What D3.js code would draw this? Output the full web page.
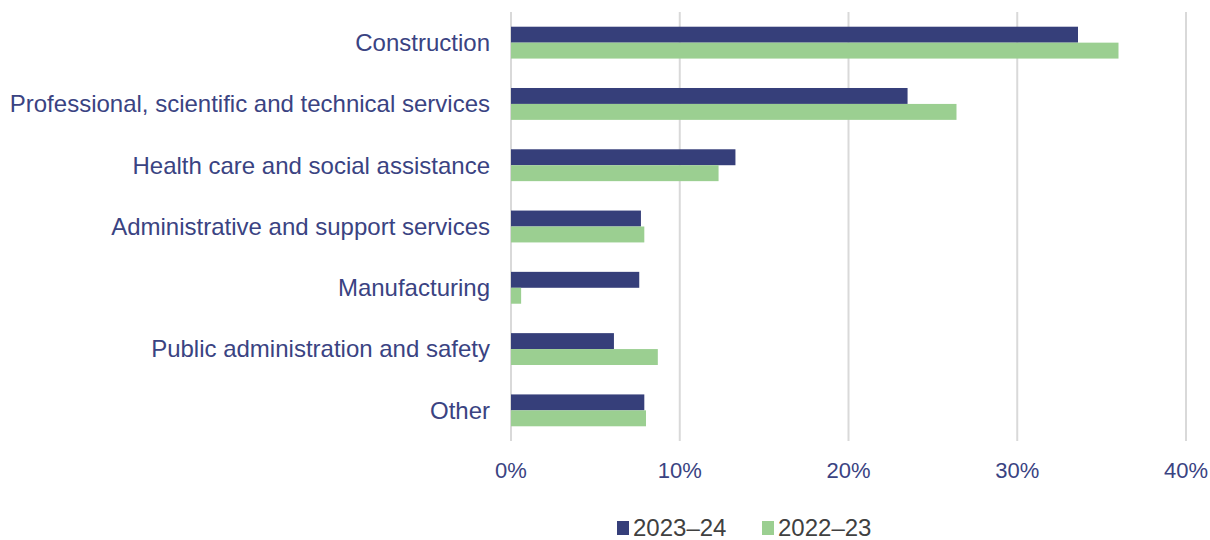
<!DOCTYPE html>
<html>
<head>
<meta charset="utf-8">
<script src="https://cdn.jsdelivr.net/npm/d3@7"></script>
<style>
  body { margin: 0; background: #fff; }
  svg { font-family: "Liberation Sans", Arial, sans-serif; }
</style>
</head>
<body>
<div id="chart"></div>
<script>
var categories = ["Construction", "Professional, scientific and technical services",
    "Health care and social assistance", "Administrative and support services",
    "Manufacturing", "Public administration and safety", "Other"];
var series = ["2023–24", "2022–23"];
var values2324 = [33.6, 23.5, 13.3, 7.7, 7.6, 6.1, 7.9];
var values2223 = [36.0, 26.4, 12.3, 7.9, 0.6, 8.7, 8.0];
var xTicks = [0, 10, 20, 30, 40];

var width = 1210, height = 540,
    plotLeft = 511, plotRight = 1186, plotTop = 12, plotBottom = 441,
    colors = ["#363f7a", "#9bcf91"],
    textColor = "#3a4382";

var svg = d3.select("#chart").append("svg")
    .attr("width", width)
    .attr("height", height);

var x = d3.scaleLinear().domain([0, 40]).range([plotLeft, plotRight]);
var y = d3.scaleBand().domain(categories).range([plotTop, plotBottom]).paddingInner(0.48).paddingOuter(0.24);
var ySub = d3.scaleBand().domain(series).range([0, y.bandwidth()]);

// gridlines
svg.append("g").selectAll("line")
    .data(xTicks)
  .enter().append("line")
    .attr("x1", d => x(d)).attr("x2", d => x(d))
    .attr("y1", plotTop).attr("y2", plotBottom)
    .attr("stroke", "#d9d9d9")
    .attr("stroke-width", 2);

var rows = categories.map((c, i) => ({ cat: c, vals: [values2324[i], values2223[i]] }));

var g = svg.selectAll(".row")
    .data(rows)
  .enter().append("g")
    .attr("class", "row")
    .attr("transform", d => `translate(0, ${y(d.cat)})`);

g.selectAll("rect")
    .data(d => d.vals.map((v, j) => ({ key: series[j], v: v, j: j })))
  .enter().append("rect")
    .attr("x", x(0))
    .attr("y", d => ySub(d.key))
    .attr("width", d => x(d.v) - x(0))
    .attr("height", ySub.bandwidth())
    .attr("fill", d => colors[d.j]);

// category labels
svg.append("g").selectAll("text")
    .data(categories)
  .enter().append("text")
    .attr("x", 490)
    .attr("y", d => y(d) + y.bandwidth() / 2)
    .attr("dy", "0.35em")
    .attr("text-anchor", "end")
    .attr("font-size", 24)
    .attr("fill", textColor)
    .text(d => d);

// x tick labels
svg.append("g").selectAll("text")
    .data(xTicks)
  .enter().append("text")
    .attr("x", d => x(d))
    .attr("y", 470)
    .attr("dy", "0.35em")
    .attr("text-anchor", "middle")
    .attr("font-size", 22)
    .attr("fill", textColor)
    .text(d => d + "%");

// legend
var legendX = [617, 762];
var lg = svg.selectAll(".legend")
    .data(series)
  .enter().append("g")
    .attr("class", "legend")
    .attr("transform", (d, i) => `translate(${legendX[i]}, 528)`);

lg.append("rect")
    .attr("x", 0).attr("y", -7)
    .attr("width", 12).attr("height", 14)
    .attr("fill", (d, i) => colors[i]);

lg.append("text")
    .attr("x", 16)
    .attr("dy", "0.35em")
    .attr("font-size", 24)
    .attr("fill", "#404040")
    .text(d => d);
</script>
</body>
</html>
